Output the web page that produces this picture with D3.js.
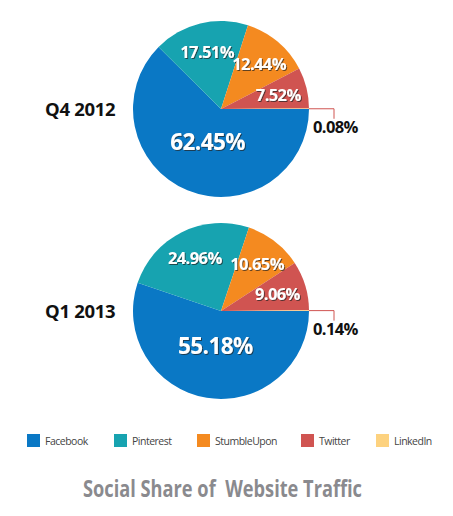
<!DOCTYPE html>
<html><head><meta charset="utf-8">
<script src="https://cdn.jsdelivr.net/npm/d3@7"></script>
<style>body{margin:0;background:#fff}svg{display:block}</style>
</head><body>
<svg id="chart" width="453" height="516"></svg>
<script>
const categories = ["Facebook","Pinterest","StumbleUpon","Twitter","LinkedIn"];
const colors = ["#0a78c5","#17a3b0","#f48a20","#d05451","#fdd27f"];
const periods = ["Q4 2012","Q1 2013"];
const q4_2012 = [62.45,17.51,12.44,7.52,0.08];
const q1_2013 = [55.18,24.96,10.65,9.06,0.14];
const title = "Social Share of  Website Traffic";

const svg = d3.select("#chart");
const defs = svg.append("defs");
const f = defs.append("filter").attr("id","sh").attr("x","-20%").attr("y","-20%").attr("width","140%").attr("height","140%");
f.append("feDropShadow").attr("dx",1).attr("dy",1).attr("stdDeviation",0.7).attr("flood-color","#222").attr("flood-opacity",0.7);

const color = d3.scaleOrdinal().domain(categories).range(colors);
const R = 88;
const pie = d3.pie().sort(null).startAngle(Math.PI/2).endAngle(Math.PI/2 + 2*Math.PI);
const arc = d3.arc().innerRadius(0).outerRadius(R);
const centers = [[221,109],[221,311]];
const series = [q4_2012, q1_2013];

series.forEach((vals, si) => {
  const [cx, cy] = centers[si];
  const g = svg.append("g").attr("transform", `translate(${cx},${cy})`);
  const arcs = pie(vals);
  g.selectAll("path").data(arcs).join("path")
    .attr("d", arc).attr("fill", (d,i) => color(categories[i]));
  arcs.forEach((d, i) => {
    const mid = (d.startAngle + d.endAngle)/2;
    if (i === 4) {
      const x0 = R*Math.sin(mid), y0 = -R*Math.cos(mid);
      g.append("path")
        .attr("d", `M${x0},${y0}H${R+25}V${y0+10}`)
        .attr("fill","none").attr("stroke","#d05451").attr("stroke-width",1);
      g.append("text").attr("x", R+4).attr("y", y0+24)
        .attr("font-family","Open Sans, sans-serif").attr("font-weight",700)
        .attr("font-size",16.5).attr("fill","#111").attr("letter-spacing",-0.6)
        .text(vals[i].toFixed(2)+"%");
      return;
    }
    const rr = i === 0 ? R*0.4 : R*0.67;
    g.append("text")
      .attr("x", rr*Math.sin(mid)).attr("y", -rr*Math.cos(mid))
      .attr("dy","0.36em").attr("text-anchor","middle")
      .attr("font-family","Open Sans, sans-serif").attr("font-weight",700)
      .attr("font-size", i === 0 ? 22.5 : 16.5).attr("letter-spacing",-0.6)
      .attr("fill","#fff").attr("filter","url(#sh)")
      .text(vals[i].toFixed(2)+"%");
  });
  svg.append("text").attr("x",45).attr("y",cy+7)
    .attr("font-family","Open Sans, sans-serif").attr("font-weight",700)
    .attr("font-size",18.5).attr("fill","#111").attr("letter-spacing",-0.3)
    .text(periods[si]);
});

const legX = [27,114,197,301,376];
const lg = svg.append("g");
categories.forEach((c,i) => {
  lg.append("rect").attr("x",legX[i]).attr("y",434).attr("width",13).attr("height",13).attr("fill",color(c));
  lg.append("text").attr("x",legX[i]+18).attr("y",444.5)
    .attr("font-family","Open Sans, sans-serif").attr("font-size",10.5).attr("fill","#444").attr("letter-spacing",-0.5)
    .text(c);
});

svg.append("text").attr("x",83).attr("y",497)
  .attr("font-family","Open Sans, sans-serif").attr("font-weight",700)
  .attr("font-size",23).attr("fill","#8a8a8e")
  .attr("textLength",279).attr("lengthAdjust","spacingAndGlyphs")
  .style("white-space","pre")
  .text(title);
</script>
</body></html>
